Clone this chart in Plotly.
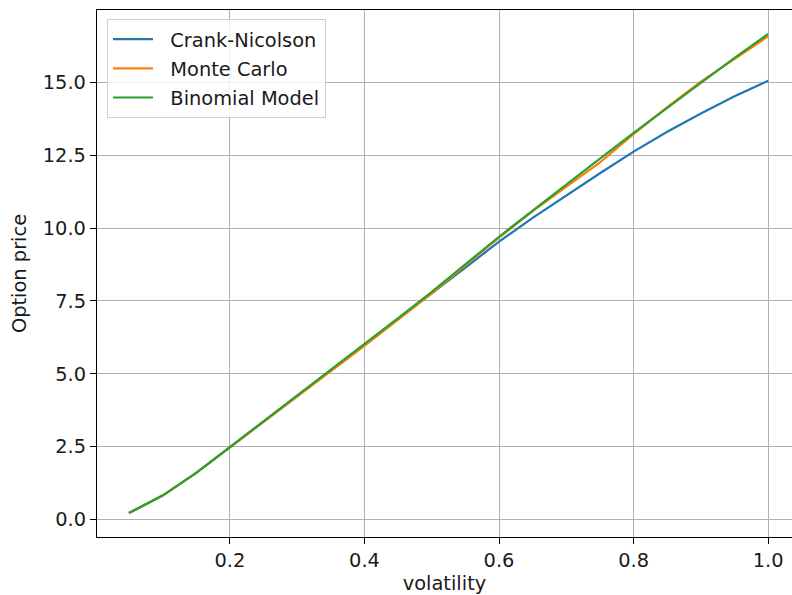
import plotly.graph_objects as go

# Option price vs. volatility for three pricing methods
volatility = [0.05, 0.10, 0.15, 0.20, 0.25, 0.30, 0.35, 0.40, 0.45, 0.50,
              0.55, 0.60, 0.65, 0.70, 0.75, 0.80, 0.85, 0.90, 0.95, 1.00]

crank_nicolson = [0.22, 0.82, 1.60, 2.47, 3.35, 4.24, 5.12, 5.99, 6.88, 7.76,
                  8.64, 9.53, 10.35, 11.12, 11.88, 12.62, 13.30, 13.93, 14.52, 15.05]

monte_carlo = [0.22, 0.82, 1.60, 2.47, 3.33, 4.21, 5.09, 5.96, 6.86, 7.76,
               8.72, 9.67, 10.58, 11.42, 12.25, 13.22, 14.15, 15.02, 15.80, 16.58]

binomial = [0.22, 0.82, 1.60, 2.48, 3.36, 4.25, 5.13, 6.01, 6.91, 7.81,
            8.75, 9.70, 10.60, 11.50, 12.38, 13.26, 14.13, 15.00, 15.84, 16.66]

series_names = ["Crank-Nicolson", "Monte Carlo", "Binomial Model"]
series_colors = ["#1f77b4", "#ff7f0e", "#2ca02c"]

y_tick_vals = [0.0, 2.5, 5.0, 7.5, 10.0, 12.5, 15.0]
y_tick_text = ["0.0", "2.5", "5.0", "7.5", "10.0", "12.5", "15.0"]
x_tick_vals = [0.2, 0.4, 0.6, 0.8, 1.0]
x_tick_text = ["0.2", "0.4", "0.6", "0.8", "1.0"]

FONT = "DejaVu Sans"
FS = 19.4
TEXT = "#1a1a1a"
PAD = "\u00a0\u00a0"  # small gap between legend line sample and its label

fig = go.Figure()
for name, color, values in zip(series_names, series_colors,
                               [crank_nicolson, monte_carlo, binomial]):
    fig.add_trace(go.Scatter(
        x=volatility, y=values, mode="lines", name=PAD + name,
        legendgroup=name,
        line=dict(color=color, width=2.2),
    ))

axis_common = dict(
    showgrid=True, gridcolor="#b0b0b0", gridwidth=1.1,
    showline=True, linecolor="black", linewidth=1.3,
    ticks="outside", ticklen=6, tickwidth=1.3, tickcolor="black",
    tickfont=dict(family=FONT, size=FS, color=TEXT),
    zeroline=False,
)

fig.update_layout(
    width=792, height=595,
    margin=dict(l=97, r=0, t=10, b=58),
    paper_bgcolor="white", plot_bgcolor="white",
    font=dict(family=FONT, size=FS, color=TEXT),
    xaxis=dict(
        range=[0.0025, 1.0354],
        tickvals=x_tick_vals, ticktext=x_tick_text,
        title=dict(text="volatility", font=dict(family=FONT, size=FS, color=TEXT),
                   standoff=6),
        mirror=True,
        **axis_common,
    ),
    yaxis=dict(
        range=[-0.602, 17.48],
        tickvals=y_tick_vals, ticktext=y_tick_text,
        title=dict(text="Option price", font=dict(family=FONT, size=FS, color=TEXT),
                   standoff=10),
        mirror=False,
        **axis_common,
    ),
    legend=dict(
        x=0.0144, y=0.983, xanchor="left", yanchor="top",
        bgcolor="rgba(255,255,255,0.8)", bordercolor="#d0d0d0", borderwidth=1,
        font=dict(family=FONT, size=FS, color=TEXT),
        itemwidth=40, tracegroupgap=1, traceorder="grouped",
    ),
    showlegend=True,
)

fig.write_html("out.html")
